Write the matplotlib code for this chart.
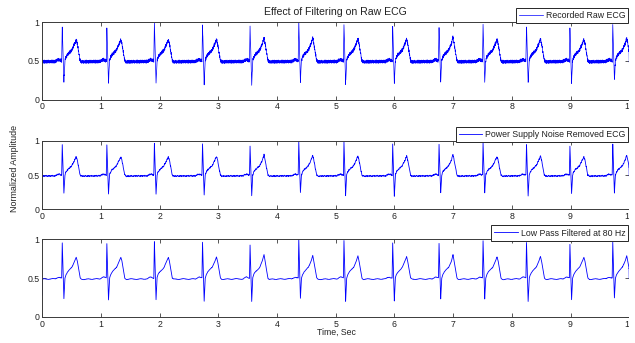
import numpy as np
import matplotlib
matplotlib.use("Agg")
import matplotlib.pyplot as plt
from matplotlib.patches import Rectangle

# ---------------- data ----------------
# R-peak times (s)
r_peak_times = [0.34, 1.10, 1.91, 2.73, 3.54, 4.37, 5.14, 5.97, 6.76, 7.51, 8.25, 8.99, 9.72]
# per-beat amplitudes
r_heights = [0.95, 0.94, 0.97, 0.96, 0.93, 1.00, 0.98, 0.95, 0.945, 0.98, 0.955, 0.93, 0.96]
s_depths = [0.235, 0.22, 0.22, 0.205, 0.20, 0.24, 0.205, 0.20, 0.235, 0.235, 0.20, 0.225, 0.245]
t_heights = [0.77, 0.765, 0.765, 0.775, 0.80, 0.795, 0.785, 0.78, 0.805, 0.77, 0.78, 0.77, 0.79]

# one-beat shape: offsets from the R peak (s) and levels; R, S and T slots are replaced per beat
beat_offsets = [-0.12, -0.09, -0.06, -0.03, -0.01, 0.0, 0.028, 0.045, 0.062, 0.09, 0.13,
                0.165, 0.21, 0.238, 0.255, 0.278, 0.305, 0.33, 0.40]
beat_levels = [0.49, 0.505, 0.515, 0.505, 0.50, 0.95, 0.23, 0.50, 0.545, 0.58, 0.61,
               0.64, 0.72, 0.77, 0.725, 0.62, 0.50, 0.485, 0.487]
R_SLOT, S_SLOT, T_SLOT = 5, 6, 13
baseline_level = 0.487

# residual noise (amplitude offsets, cycled)
raw_noise = [0.009, -0.016, 0.021, -0.006, -0.019, 0.014, 0.003, -0.011, 0.022, -0.021,
             0.007, 0.012, -0.015, -0.002, 0.018, -0.008, -0.022, 0.016, 0.005, -0.012,
             0.020, -0.017, 0.001, 0.010, -0.018, 0.015, -0.005, 0.021, -0.010, -0.015,
             0.011, 0.002, -0.020, 0.017, -0.007, 0.008, -0.013]
mid_noise = [0.004, -0.006, 0.008, -0.002, -0.007, 0.005, 0.009, -0.004, 0.001, -0.008,
             0.006, -0.003, 0.007, -0.009, 0.002, 0.005, -0.005, 0.008, -0.001, -0.006,
             0.003, -0.008, 0.006]
low_noise = [0.003, 0.005, 0.002, -0.002, -0.004, -0.001, 0.003, 0.006, 0.004, 0.0,
             -0.003, -0.005, -0.002, 0.002, 0.004, 0.001, -0.003, -0.004, 0.0]
lowpass_start_value = 0.28

labels = ["Recorded Raw ECG", "Power Supply Noise Removed ECG", "Low Pass Filtered at 80 Hz"]
x_ticks = list(range(0, 11))
y_ticks = [0, 0.5, 1]
y_tick_labels = ["0", "0.5", "1"]

# ---------------- build waveform polyline ----------------
pts_t = [0.0]
pts_v = [baseline_level]
for tr, rh, sd, th in zip(r_peak_times, r_heights, s_depths, t_heights):
    lv = list(beat_levels)
    lv[R_SLOT], lv[S_SLOT], lv[T_SLOT] = rh, sd, th
    for o, v in zip(beat_offsets, lv):
        pts_t.append(tr + o)
        pts_v.append(v)
pts_t.append(10.0)
pts_v.append(baseline_level)
pts_t = np.array(pts_t)
pts_v = np.array(pts_v)
order = np.argsort(pts_t)
pts_t, pts_v = pts_t[order], pts_v[order]

t = np.union1d(np.arange(0, 10.0001, 0.002), pts_t)
clean = np.interp(t, pts_t, pts_v)
idx = np.arange(len(t))
raw = clean + np.array(raw_noise)[(idx // 2) % len(raw_noise)]
mid = clean + np.array(mid_noise)[(idx // 5) % len(mid_noise)]
low = clean + np.array(low_noise)[(idx // 12) % len(low_noise)]
low[0] = lowpass_start_value
signals = [raw, mid, low]
widths = [0.5, 0.6, 0.6]

# ---------------- figure ----------------
plt.rcParams['font.family'] = ['Liberation Sans', 'DejaVu Sans']
W, H = 635, 343
fig = plt.figure(figsize=(W / 100, H / 100), dpi=100)

# (top px, bottom px)
boxes = [(22.0, 99.5), (141.0, 209.3), (239.3, 317.0)]
left_px, right_px = 42.3, 629.2
text_col = '#222222'
spine_col = '#3a3a3a'

for k, ((top, bot), y, lab, lw) in enumerate(zip(boxes, signals, labels, widths)):
    ax = fig.add_axes([left_px / W, 1 - bot / H, (right_px - left_px) / W, (bot - top) / H])
    line, = ax.plot(t, y, color='#0000ff', lw=lw)
    ax.set_xlim(0, 10)
    ax.set_ylim(0, 1)
    ax.set_xticks(x_ticks)
    ax.set_xticklabels([str(v) for v in x_ticks])
    ax.set_yticks(y_ticks)
    ax.set_yticklabels(y_tick_labels)
    ax.tick_params(direction='in', length=3, width=0.6, top=True, right=True,
                   labelsize=6.3, colors=spine_col, labelcolor=text_col, pad=2)
    for s in ax.spines.values():
        s.set_color(spine_col)
        s.set_linewidth(0.7)
    leg = ax.legend([line], [lab], loc='lower right', bbox_to_anchor=(0.9985, 0.983),
                    borderaxespad=0, fontsize=6.3, frameon=True, fancybox=False,
                    framealpha=1, borderpad=0.35, handlelength=2.7, handletextpad=0.3)
    leg.get_frame().set_edgecolor('#262626')
    leg.get_frame().set_linewidth(0.7)
    for txt in leg.get_texts():
        txt.set_color(text_col)
    if k == 0:
        ax.set_title("Effect of Filtering on Raw ECG", fontsize=7.6, color=text_col, pad=5)

fig.text(15 / W, 1 - 168 / H, "Normalized Amplitude", rotation=90, ha='center', va='center',
         fontsize=6.4, color=text_col)
fig.text(336 / W, 1 - 332 / H, "Time, Sec", ha='center', va='center', fontsize=6.3, color=text_col)

# the reference picture is cut off just right of the plot boxes
fig.add_artist(Rectangle((628.9 / W, 0), 1, 1, transform=fig.transFigure,
                         facecolor='white', edgecolor='none', zorder=100))

fig.savefig("out.png", dpi=100)
